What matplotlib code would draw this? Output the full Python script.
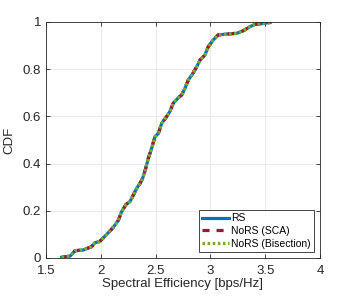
import matplotlib
matplotlib.use("Agg")
import matplotlib.pyplot as plt

# CDF of spectral efficiency
se = [1.643, 1.72, 1.765, 1.84, 1.917, 1.947, 1.99, 2.054, 2.114, 2.16, 2.19, 2.23,
      2.266, 2.297, 2.327, 2.358, 2.382, 2.41, 2.433, 2.464, 2.494, 2.525, 2.556,
      2.60, 2.63, 2.66, 2.707, 2.738, 2.768, 2.798, 2.83, 2.875, 2.905, 2.95, 2.98,
      3.026, 3.07, 3.149, 3.24, 3.30, 3.36, 3.407, 3.48, 3.544]
cdf = [0.003, 0.008, 0.031, 0.034, 0.048, 0.065, 0.07, 0.10, 0.13, 0.16, 0.196, 0.227,
       0.239, 0.267, 0.295, 0.316, 0.338, 0.38, 0.422, 0.465, 0.514, 0.528, 0.571,
       0.599, 0.62, 0.655, 0.679, 0.691, 0.719, 0.754, 0.775, 0.81, 0.839, 0.86, 0.895,
       0.924, 0.945, 0.949, 0.952, 0.963, 0.98, 0.99, 0.994, 0.998]

plt.rcParams['font.family'] = ['Liberation Sans', 'DejaVu Sans']

fig = plt.figure(figsize=(3.54, 3.0), dpi=100)
ax = fig.add_axes([46/354, 42/300, 274/354, 236/300])

ax.plot(se, cdf, color=(0, 0.447, 0.741), lw=2.3, label='RS')
ax.plot(se, cdf, color=(0.635, 0.078, 0.184), lw=2.3, ls=(0, (2.2, 2.2)), label='NoRS (SCA)')
ax.plot(se, cdf, color=(0.466, 0.674, 0.188), lw=2.3, ls=(0, (0.8, 0.8)), label='NoRS (Bisection)')

ax.set_xlim(1.5, 4)
ax.set_ylim(0, 1)
ax.set_xticks([1.5, 2, 2.5, 3, 3.5, 4])
ax.set_xticklabels(['1.5', '2', '2.5', '3', '3.5', '4'])
ax.set_yticks([0, 0.2, 0.4, 0.6, 0.8, 1])
ax.set_yticklabels(['0', '0.2', '0.4', '0.6', '0.8', '1'])
ax.grid(True, color='#e6e6e6', lw=0.6)
ax.set_axisbelow(True)
ax.tick_params(direction='in', top=True, right=True, labelsize=9.5, colors='#262626', length=3, width=0.6)
ax.tick_params(axis='x', pad=5)
for s in ax.spines.values():
    s.set_color('#262626')
    s.set_linewidth(0.6)
ax.set_xlabel('Spectral Efficiency [bps/Hz]', fontsize=9.5, color='#262626', labelpad=1)
ax.set_ylabel('CDF', fontsize=9.5, color='#262626', labelpad=5)

leg = ax.legend(loc='lower right', fontsize=7.5, fancybox=False, framealpha=1,
                edgecolor='#262626', borderpad=0.3, labelspacing=0.25,
                handlelength=2.6, handletextpad=0.2, borderaxespad=0.6)
leg.get_frame().set_linewidth(0.6)

fig.savefig('out.png', dpi=100)
